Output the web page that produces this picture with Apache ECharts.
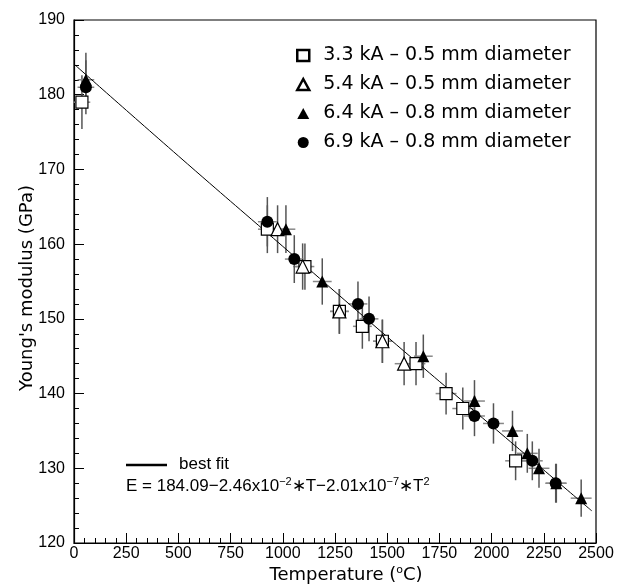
<!DOCTYPE html>
<html>
<head>
<meta charset="utf-8">
<script src="https://cdn.jsdelivr.net/npm/echarts@6/dist/echarts.min.js"></script>
<style>html,body{margin:0;padding:0;background:#fff}#c{width:622px;height:586px}</style>
</head>
<body>
<div id="c"></div>
<script>
// ---- data (T in °C, E in GPa, dT, dE) ----
const xTicks = [0, 250, 500, 750, 1000, 1250, 1500, 1750, 2000, 2250, 2500];
const yTicks = [120, 130, 140, 150, 160, 170, 180, 190];

const sq33_T  = [38, 926, 1106, 1271, 1381, 1477, 1638, 1782, 1862, 2115];
const sq33_E  = [179, 162, 157, 151, 149, 147, 144, 140, 138, 131];
const sq33_dT = [40, 45, 45, 45, 45, 45, 45, 50, 50, 50];
const sq33_dE = [3.6, 3.2, 3.1, 3.0, 3.0, 2.9, 2.9, 2.8, 2.8, 2.6];

const tri54_T  = [975, 1095, 1271, 1477, 1581];
const tri54_E  = [162, 157, 151, 147, 144];
const tri54_dT = [45, 45, 45, 45, 45];
const tri54_dE = [3.2, 3.1, 3.0, 2.9, 2.9];

const tri64_T  = [57, 1015, 1189, 1673, 1918, 2100, 2171, 2227, 2310, 2429];
const tri64_E  = [182, 162, 155, 145, 139, 135, 132, 130, 128, 126];
const tri64_dT = [40, 45, 45, 45, 50, 50, 50, 50, 50, 50];
const tri64_dE = [3.6, 3.2, 3.1, 2.9, 2.8, 2.7, 2.6, 2.6, 2.6, 2.5];

const cir69_T  = [57, 926, 1055, 1360, 1413, 1918, 2009, 2195, 2307];
const cir69_E  = [181, 163, 158, 152, 150, 137, 136, 131, 128];
const cir69_dT = [40, 45, 45, 45, 45, 50, 50, 50, 50];
const cir69_dE = [3.6, 3.3, 3.2, 3.0, 3.0, 2.7, 2.7, 2.6, 2.6];

// best fit curve
const fitT = [0, 500, 1000, 1500, 2000, 2480];
const fitE = [184.1, 171.8, 159.7, 147.6, 135.7, 124.3];

const seriesNames = ['3.3 kA \u2013 0.5 mm diameter', '5.4 kA \u2013 0.5 mm diameter',
                     '6.4 kA \u2013 0.8 mm diameter', '6.9 kA \u2013 0.8 mm diameter'];

function rows(T, E, dT, dE) { return T.map((t, i) => [t, E[i], dT[i], dE[i]]); }

function errBars(params, api) {
  const x = api.value(0), y = api.value(1), dx = api.value(2), dy = api.value(3);
  const c = api.coord([x, y]);
  const l = api.coord([x - dx, y]), r = api.coord([x + dx, y]);
  const t = api.coord([x, y + dy]), b = api.coord([x, y - dy]);
  return {
    type: 'group',
    children: [
      {type: 'line', shape: {x1: l[0], y1: c[1], x2: r[0], y2: c[1]}, style: {stroke: '#888', lineWidth: 1.5}},
      {type: 'line', shape: {x1: c[0], y1: t[1], x2: c[0], y2: b[1]}, style: {stroke: '#555', lineWidth: 1.5}}
    ]
  };
}

const groups = [
  {d: rows(sq33_T, sq33_E, sq33_dT, sq33_dE), symbol: 'rect', size: 12, fill: '#fff', lw: 1.2},
  {d: rows(tri54_T, tri54_E, tri54_dT, tri54_dE), symbol: 'triangle', size: 13, fill: '#fff', lw: 1.2},
  {d: rows(tri64_T, tri64_E, tri64_dT, tri64_dE), symbol: 'triangle', size: 12, fill: '#000', lw: 0},
  {d: rows(cir69_T, cir69_E, cir69_dT, cir69_dE), symbol: 'circle', size: 12, fill: '#000', lw: 0}
];

const series = [];
groups.forEach((g, i) => {
  series.push({
    type: 'custom', name: seriesNames[i] + ' err', renderItem: errBars,
    data: g.d, z: 2, silent: true
  });
});
series.push({
  type: 'line', name: 'best fit', data: fitT.map((t, i) => [t, fitE[i]]),
  showSymbol: false, smooth: true, lineStyle: {color: '#000', width: 1}, z: 3, silent: true
});
groups.forEach((g, i) => {
  series.push({
    type: 'scatter', name: seriesNames[i], data: g.d.map(p => [p[0], p[1]]),
    symbol: g.symbol, symbolSize: g.size, z: 4,
    itemStyle: {color: g.fill, borderColor: '#000', borderWidth: g.lw, opacity: 1}
  });
});

const supStyle = {fontSize: 11, verticalAlign: 'top', lineHeight: 11};

const chart = echarts.init(document.getElementById('c'), null, {renderer: 'canvas'});
chart.setOption({
  animation: false,
  grid: {left: 74, right: 26, top: 20, bottom: 43, show: true, borderColor: '#000', borderWidth: 1.2, containLabel: false},
  legend: {
    orient: 'vertical', left: 296, top: 46, padding: 0, itemGap: 10, itemWidth: 12, itemHeight: 11,
    textStyle: {fontFamily: 'DejaVu Sans', fontSize: 19, color: '#000', padding: [0, 0, 0, 9]},
    data: [
      {name: seriesNames[0], icon: 'rect', itemStyle: {color: '#fff', borderColor: '#000', borderWidth: 2.5}},
      {name: seriesNames[1], icon: 'triangle', itemStyle: {color: '#fff', borderColor: '#000', borderWidth: 2.5}},
      {name: seriesNames[2], icon: 'triangle', itemStyle: {color: '#000', borderWidth: 0}},
      {name: seriesNames[3], icon: 'circle', itemStyle: {color: '#000', borderWidth: 0}}
    ]
  },
  xAxis: {
    type: 'value', min: xTicks[0], max: xTicks[xTicks.length - 1], interval: 250,
    axisLine: {show: true, lineStyle: {color: '#000', width: 1.2}},
    axisTick: {show: true, inside: true, length: 10, lineStyle: {color: '#000'}},
    minorTick: {show: true, splitNumber: 5, length: 5, lineStyle: {color: '#000'}},
    splitLine: {show: false},
    axisLabel: {fontFamily: 'Liberation Sans', fontSize: 16, color: '#000', margin: 3,
                formatter: v => String(v)}
  },
  yAxis: {
    type: 'value', min: yTicks[0], max: yTicks[yTicks.length - 1], interval: 10,
    axisLine: {show: true, lineStyle: {color: '#000', width: 1.2}},
    axisTick: {show: true, inside: true, length: 10, lineStyle: {color: '#000'}},
    minorTick: {show: true, splitNumber: 5, length: 5, lineStyle: {color: '#000'}},
    splitLine: {show: false},
    axisLabel: {fontFamily: 'Liberation Sans', fontSize: 16, color: '#000', margin: 9,
                formatter: v => String(v)}
  },
  graphic: [
    {type: 'text', x: 346, y: 575, style: {
      text: 'Temperature ({s|o}C)', align: 'center', verticalAlign: 'middle',
      font: '18px "DejaVu Sans"', fill: '#000', lineHeight: 20,
      rich: {s: Object.assign({fontFamily: 'DejaVu Sans'}, supStyle)}
    }},
    {type: 'text', rotation: Math.PI / 2, x: 27, y: 288, style: {
      text: "Young's modulus (GPa)", align: 'center', verticalAlign: 'middle',
      font: '18px "DejaVu Sans"', fill: '#000'
    }},
    {type: 'line', shape: {x1: 126, y1: 465, x2: 167, y2: 465}, style: {stroke: '#000', lineWidth: 2.5}},
    {type: 'text', x: 179, y: 464, style: {
      text: 'best fit', verticalAlign: 'middle', font: '17px "Liberation Sans"', fill: '#000'
    }},
    {type: 'text', x: 126, y: 486, style: {
      text: 'E = 184.09\u22122.46x10{s|\u22122}\u2217T\u22122.01x10{s|\u22127}\u2217T{s|2}',
      verticalAlign: 'middle', font: '17px "Liberation Sans"', fill: '#000', lineHeight: 20,
      rich: {s: Object.assign({fontFamily: 'Liberation Sans'}, supStyle)}
    }}
  ],
  series: series
});
</script>
</body>
</html>
